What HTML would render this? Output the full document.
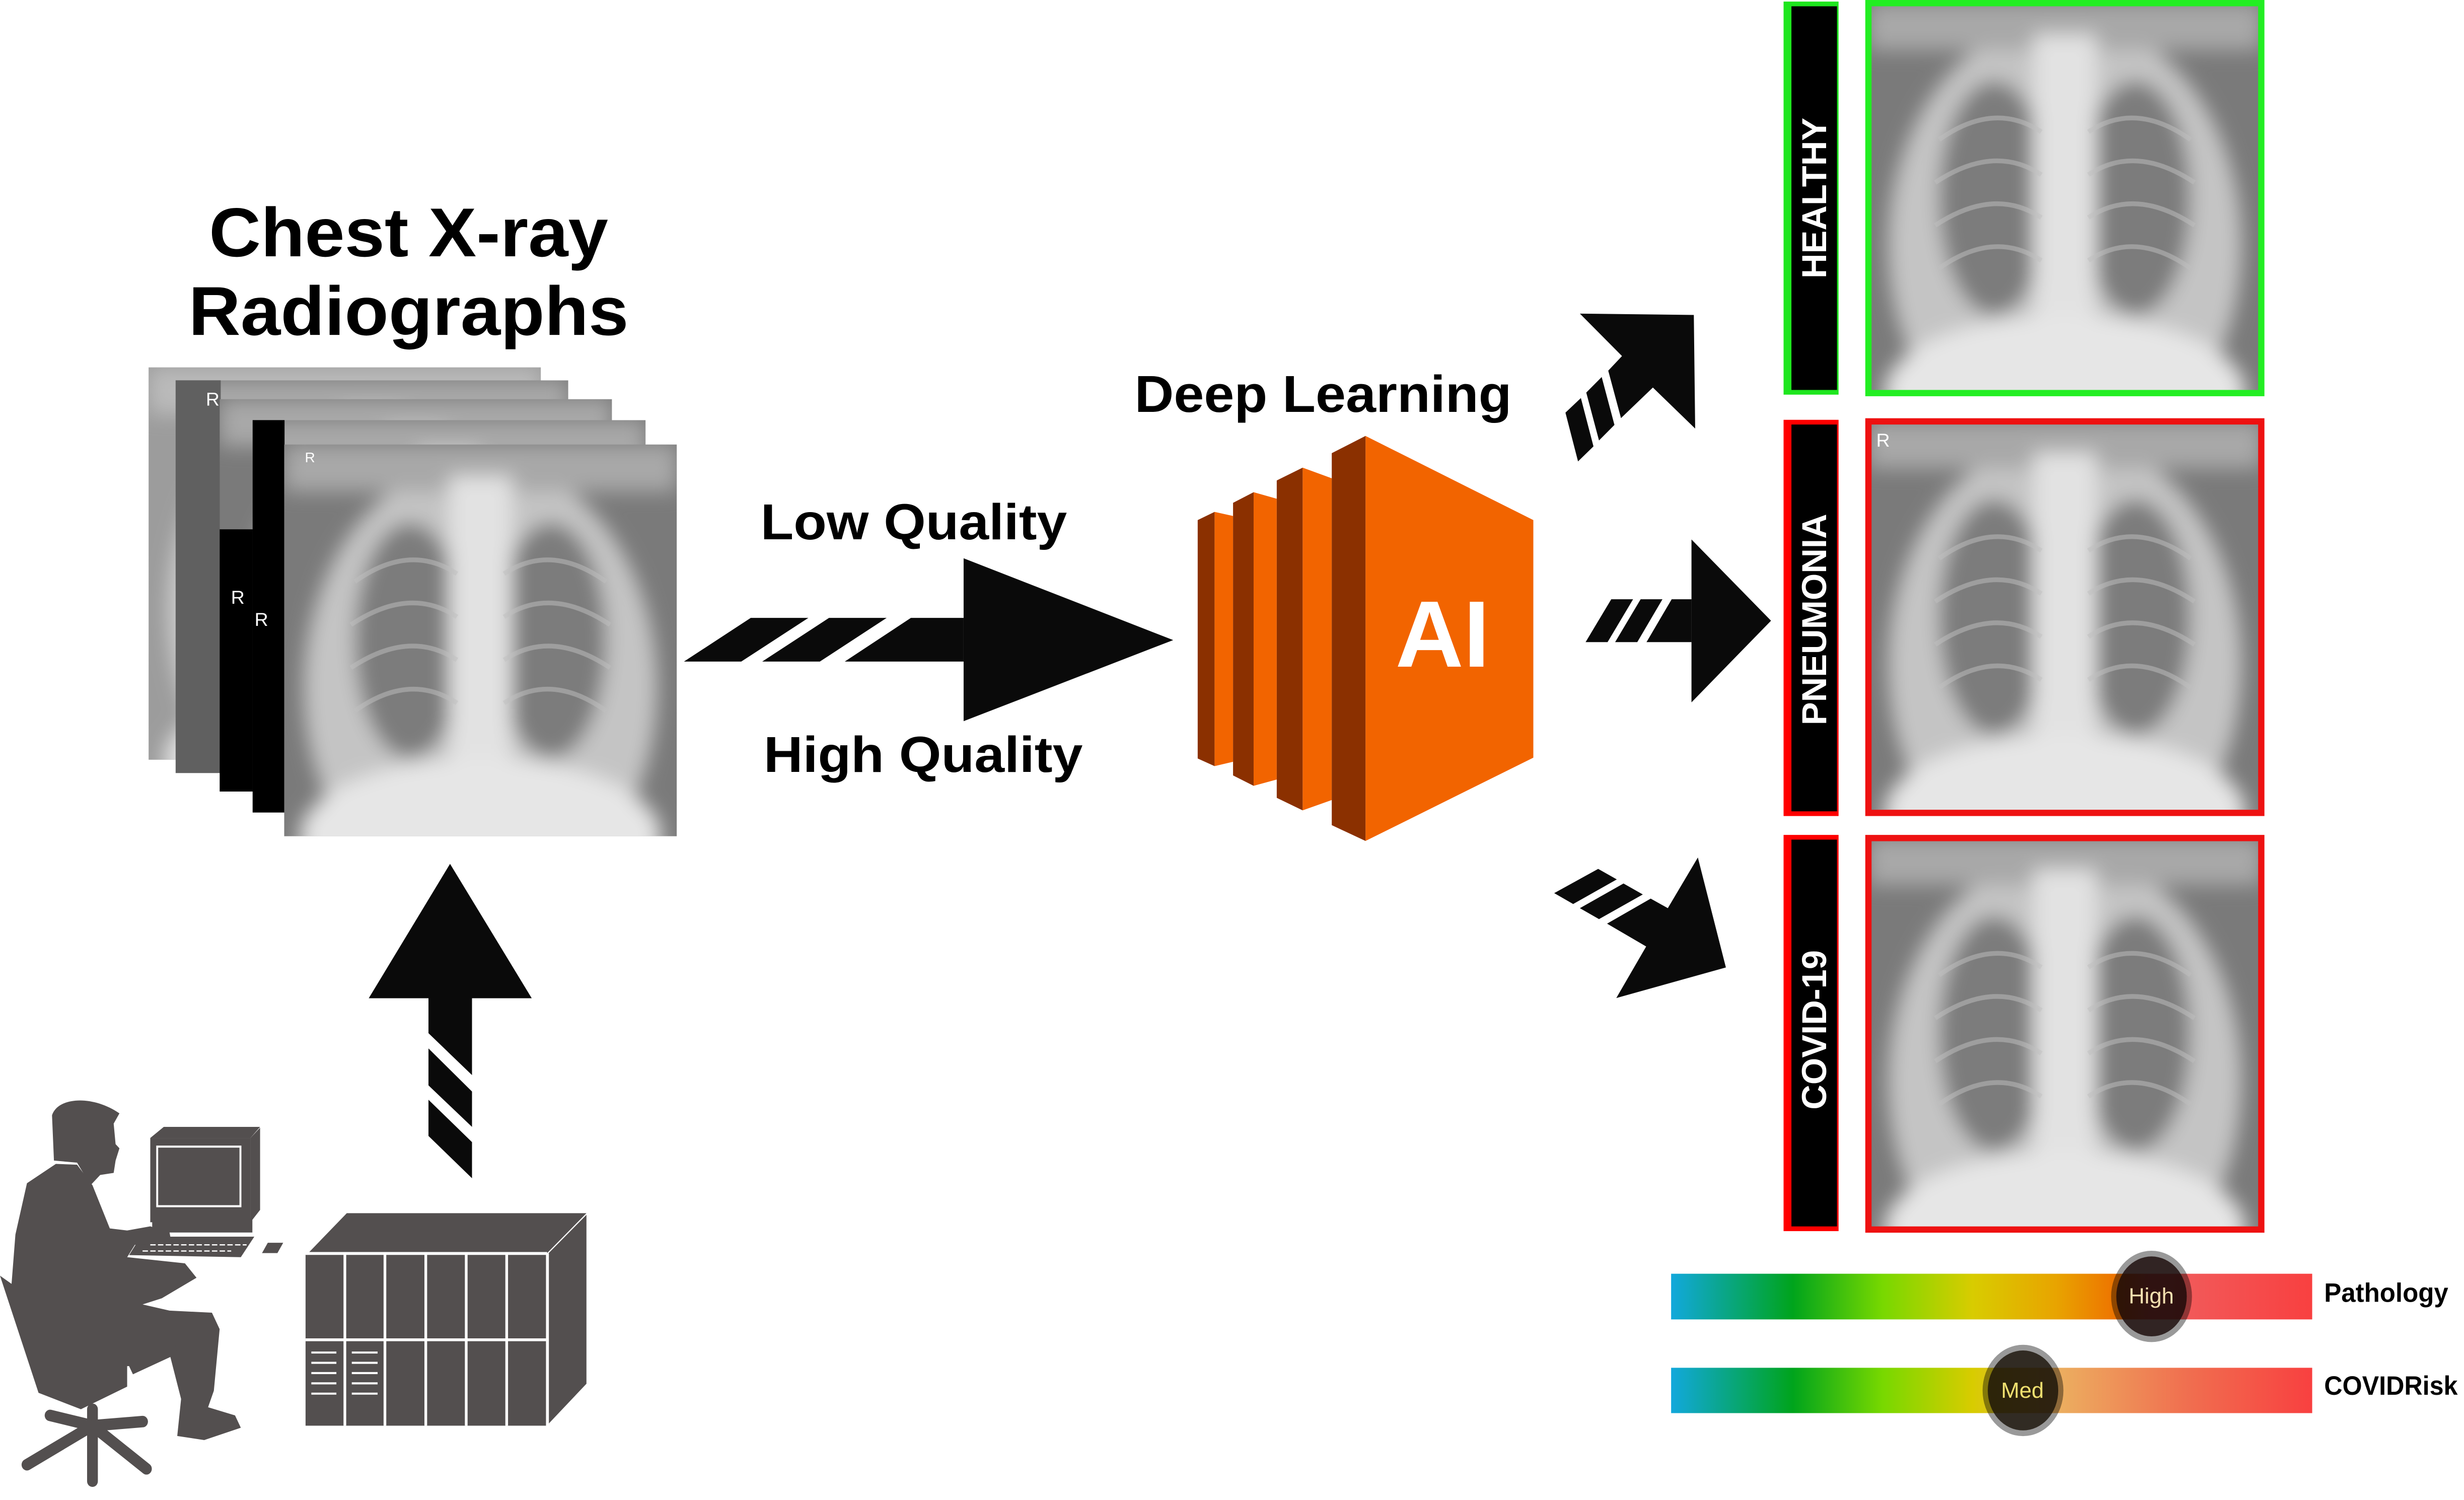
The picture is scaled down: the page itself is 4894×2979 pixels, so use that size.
<!DOCTYPE html>
<html><head><meta charset="utf-8"><style>html,body{margin:0;padding:0;background:#fff}svg{display:block}</style></head>
<body>
<svg xmlns="http://www.w3.org/2000/svg" width="4894" height="2979" viewBox="0 0 1568 954" preserveAspectRatio="none" font-family="Liberation Sans, Arial, sans-serif">
<defs>
<filter id="bl" x="-10%" y="-10%" width="120%" height="120%"><feGaussianBlur stdDeviation="2.5"/></filter>
<symbol id="xr" viewBox="0 0 100 100" preserveAspectRatio="none">
 <rect width="100" height="100" fill="#7a7a7a"/>
 <g filter="url(#bl)">
  <ellipse cx="50" cy="62" rx="45" ry="58" fill="#c4c4c4"/>
  <rect x="0" y="0" width="100" height="12" fill="#a8a8a8"/>
  <ellipse cx="32" cy="50" rx="14" ry="30" fill="#7c7c7c"/>
  <ellipse cx="68" cy="50" rx="14" ry="30" fill="#7c7c7c"/>
  <rect x="42" y="8" width="16" height="92" fill="#e2e2e2"/>
  <ellipse cx="50" cy="100" rx="46" ry="20" fill="#e6e6e6"/>
 </g>
 <g stroke="#c0c0c0" stroke-width="1.2" fill="none" opacity="0.5">
  <path d="M18,35 Q32,25 44,33 M17,46 Q32,36 44,44 M17,57 Q32,47 44,55 M18,68 Q32,58 44,66"/>
  <path d="M82,35 Q68,25 56,33 M83,46 Q68,36 56,44 M83,57 Q68,47 56,55 M82,68 Q68,58 56,66"/>
 </g>
</symbol>
</defs>

<text x="260" y="163" font-size="44" font-weight="bold" text-anchor="middle" fill="#000" textLength="254" lengthAdjust="spacingAndGlyphs">Chest X-ray</text>
<text x="260" y="213" font-size="44" font-weight="bold" text-anchor="middle" fill="#000" textLength="280" lengthAdjust="spacingAndGlyphs">Radiographs</text>
<text x="722" y="262" font-size="33" font-weight="bold" fill="#000" textLength="240" lengthAdjust="spacingAndGlyphs">Deep Learning</text>
<text x="484" y="343" font-size="32" font-weight="bold" fill="#000" textLength="195" lengthAdjust="spacingAndGlyphs">Low Quality</text>
<text x="486" y="491" font-size="32" font-weight="bold" fill="#000" textLength="203" lengthAdjust="spacingAndGlyphs">High Quality</text>

<g transform="translate(89.7,230.7) scale(0.2207,0.1962)">
 <use href="#xr" x="22" y="15" width="1131" height="1272"/>
 <rect x="22" y="15" width="1131" height="1272" fill="#ddd" opacity="0.35"/>
 <use href="#xr" x="100" y="57" width="1132" height="1273"/>
 <rect x="100" y="57" width="130" height="1273" fill="#606060"/>
 <use href="#xr" x="227" y="118" width="1131" height="1272"/>
 <rect x="227" y="540" width="100" height="850" fill="#000"/>
 <use href="#xr" x="322" y="186" width="1133" height="1272"/>
 <rect x="322" y="186" width="92" height="1272" fill="#000"/>
 <use href="#xr" x="413" y="265" width="1132" height="1270"/>
</g>
<text x="131" y="258" font-size="12" fill="#fff">R</text>
<text x="147" y="384" font-size="12" fill="#fff">R</text>
<text x="162" y="398" font-size="12" fill="#fff">R</text>
<text x="194" y="294" font-size="9" fill="#fff">R</text>

<g transform="translate(429.4,346) scale(0.2084,0.1068)" fill="#0a0a0a">
 <polygon points="882,85 1522,572 882,1055"/>
 <polygon points="519,700 721,440 882,440 882,700"/>
 <polygon points="28,700 232,440 408,440 203,700"/>
 <polygon points="267,700 471,440 647,440 443,700"/>
</g>

<g transform="translate(752.9,269.1) scale(0.1471,0.1737)">
 <polygon points="136,325 216,340 216,1240 136,1256" fill="#F26400"/>
 <polygon points="63,355 136,325 136,1256 63,1228" fill="#8B3000"/>
 <polygon points="305,253 405,277 405,1305 305,1328" fill="#F26400"/>
 <polygon points="216,292 305,253 305,1328 216,1290" fill="#8B3000"/>
 <polygon points="517,163 643,202 643,1380 517,1418" fill="#F26400"/>
 <polygon points="405,210 517,163 517,1418 405,1372" fill="#8B3000"/>
 <polygon points="789,47 1515,355 1515,1225 789,1530" fill="#F26400"/>
 <polygon points="643,110 789,47 789,1530 643,1472" fill="#8B3000"/>
</g>
<text x="888" y="424" font-size="60" font-weight="bold" fill="#fff" textLength="60" lengthAdjust="spacingAndGlyphs">AI</text>

<g transform="translate(986.9,192.2) scale(0.1068,0.2902)" fill="#0a0a0a">
 <polygon points="173,25 852,28 860,277 608,187 418,254 342,150 424,118"/>
 <polygon points="87,242 179,210 254,316 162,349"/>
 <polygon points="211,198 303,164 379,269 287,303"/>
 <polygon points="838,520 1312,698 838,877"/>
 <polygon points="570,745 720,651 838,651 838,745"/>
 <polygon points="207,745 360,651 490,651 338,745"/>
 <polygon points="383,745 535,651 665,651 515,745"/>
 <polygon points="335,1362 595,1307 697,1328 876,1217 1043,1458 390,1525 568,1412"/>
 <polygon points="20,1295 282,1242 393,1265 133,1319"/>
 <polygon points="173,1328 433,1274 548,1298 287,1352"/>
</g>

<rect x="1135" y="1" width="35" height="250" fill="#1ee61e"/>
<rect x="1140" y="4" width="29" height="244" fill="#000"/>
<rect x="1135" y="267" width="35" height="252" fill="#f00"/>
<rect x="1140" y="270" width="29" height="246" fill="#000"/>
<rect x="1135" y="531" width="35" height="252" fill="#f00"/>
<rect x="1140" y="534" width="29" height="246" fill="#000"/>
<text transform="translate(1162,126) rotate(-90)" font-size="22" font-weight="bold" fill="#fff" text-anchor="middle">HEALTHY</text>
<text transform="translate(1162,394) rotate(-90)" font-size="22" font-weight="bold" fill="#fff" text-anchor="middle">PNEUMONIA</text>
<text transform="translate(1162,655) rotate(-90)" font-size="22" font-weight="bold" fill="#fff" text-anchor="middle">COVID-19</text>

<use href="#xr" x="1189" y="2" width="250" height="248"/>
<rect x="1189" y="2" width="250" height="248" fill="none" stroke="#22ee22" stroke-width="4"/>
<use href="#xr" x="1189" y="268" width="250" height="249"/>
<rect x="1189" y="268" width="250" height="249" fill="none" stroke="#ee1111" stroke-width="4"/>
<use href="#xr" x="1189" y="533" width="250" height="249"/>
<rect x="1189" y="533" width="250" height="249" fill="none" stroke="#ee1111" stroke-width="4"/>
<text x="1194" y="284" font-size="12" fill="#fff">R</text>

<defs>
 <linearGradient id="g1" x1="0" x2="1" y1="0" y2="0">
  <stop offset="0" stop-color="#12a8dc"/><stop offset="0.19" stop-color="#00a41c"/>
  <stop offset="0.33" stop-color="#78d800"/><stop offset="0.47" stop-color="#d8cc00"/>
  <stop offset="0.6" stop-color="#e8a400"/><stop offset="0.7" stop-color="#ee7000"/>
  <stop offset="0.75" stop-color="#f06060"/><stop offset="1" stop-color="#f84040"/>
 </linearGradient>
 <linearGradient id="g2" x1="0" x2="1" y1="0" y2="0">
  <stop offset="0" stop-color="#12a8dc"/><stop offset="0.19" stop-color="#00a41c"/>
  <stop offset="0.33" stop-color="#78d800"/><stop offset="0.47" stop-color="#d8cc00"/>
  <stop offset="0.6" stop-color="#ecb060"/><stop offset="0.8" stop-color="#f07050"/>
  <stop offset="1" stop-color="#f84040"/>
 </linearGradient>
</defs>
<g transform="translate(1050.9,785) scale(0.3298,0.1068)">
 <rect x="38" y="235" width="1237" height="272" fill="url(#g1)"/>
 <ellipse cx="965" cy="370" rx="78" ry="272" fill="#000" opacity="0.4"/>
 <ellipse cx="965" cy="370" rx="68" ry="238" fill="#1a0a08" opacity="0.82"/>
 <rect x="38" y="795" width="1237" height="270" fill="url(#g2)"/>
 <ellipse cx="717" cy="930" rx="78" ry="272" fill="#000" opacity="0.4"/>
 <ellipse cx="717" cy="930" rx="68" ry="238" fill="#1a1208" opacity="0.82"/>
</g>
<text x="1369" y="829" font-size="14" fill="#f5e0b0" text-anchor="middle">High</text>
<text x="1287" y="889" font-size="14" fill="#f0e070" text-anchor="middle">Med</text>
<text x="1479" y="828" font-size="17" font-weight="bold" fill="#000" textLength="79" lengthAdjust="spacingAndGlyphs">Pathology</text>
<text x="1479" y="887" font-size="17" font-weight="bold" fill="#000" textLength="85" lengthAdjust="spacingAndGlyphs">COVIDRisk</text>

<g transform="translate(0,544.7) scale(0.2452,0.2614)">
 <g fill="#0a0a0a">
  <polygon points="957,345 1168,18 1380,345"/>
  <polygon points="1112,345 1225,345 1225,532 1112,430"/>
  <polygon points="1112,467 1225,572 1225,658 1112,557"/>
  <polygon points="1112,592 1225,695 1225,783 1112,680"/>
 </g>
 <g fill="#534f4f">
  <polygon points="800,965 900,868 1522,868 1420,965"/>
  <polygon points="1424,965 1522,872 1522,1283 1424,1380"/>
  <rect x="793" y="968" width="624" height="417"/>
 </g>
 <g stroke="#fff" stroke-width="7">
  <line x1="793" y1="966" x2="1420" y2="966"/>
  <line x1="1421" y1="966" x2="1421" y2="1385"/>
  <line x1="895" y1="968" x2="895" y2="1385"/>
  <line x1="999" y1="968" x2="999" y2="1385"/>
  <line x1="1105" y1="968" x2="1105" y2="1385"/>
  <line x1="1210" y1="968" x2="1210" y2="1385"/>
  <line x1="1315" y1="968" x2="1315" y2="1385"/>
  <line x1="793" y1="1176" x2="1417" y2="1176"/>
 </g>
 <g stroke="#fff" stroke-width="5">
  <path d="M808,1207H873M808,1232H873M808,1257H873M808,1282H873M808,1307H873"/>
  <path d="M913,1207H980M913,1232H980M913,1257H980M913,1282H980M913,1307H980"/>
 </g>
 <g fill="#534f4f">
  <polygon points="390,685 425,658 675,658 650,685"/>
  <polygon points="650,685 675,660 675,860 650,890"/>
  <rect x="390" y="685" width="260" height="205"/>
  <rect x="395" y="880" width="260" height="35"/>
  <polygon points="335,970 365,925 660,925 625,975"/>
  <polygon points="680,965 695,940 735,940 720,965"/>
 </g>
 <rect x="408" y="706" width="216" height="145" fill="none" stroke="#fff" stroke-width="5"/>
 <path d="M370,960H600M390,945H640" stroke="#fff" stroke-width="3" stroke-dasharray="14 6"/>
 <g fill="#534f4f">
  <path d="M135,630 C150,585 240,580 310,625 L295,650 L300,700 L310,710 L300,740 L295,770 L260,775 L235,800 L200,745 L140,740 Z"/>
  <path d="M145,748 L200,750 L240,800 L285,905 L330,910 L390,900 L440,915 L445,940 L350,945 L330,975 L480,990 L510,1025 L420,1075 L370,1090 L440,1105 L550,1110 L570,1150 L555,1300 L540,1340 L610,1360 L625,1390 L530,1420 L460,1410 L470,1320 L440,1210 L350,1240 L330,1240 L330,1290 L210,1345 L100,1305 L0,1020 L30,1040 L40,920 L70,795 Z"/>
  <path d="M335,1240 L455,1190 L460,1210 L345,1260 Z"/>
 </g>
 <g stroke="#534f4f" stroke-width="28" stroke-linecap="round" fill="none">
  <path d="M240,1345 L240,1385"/>
  <path d="M240,1385 L70,1480"/>
  <path d="M240,1385 L380,1490"/>
  <path d="M240,1385 L130,1360"/>
  <path d="M240,1385 L370,1375"/>
  <path d="M240,1385 L240,1520"/>
 </g>
</g>
</svg>
</body></html>
